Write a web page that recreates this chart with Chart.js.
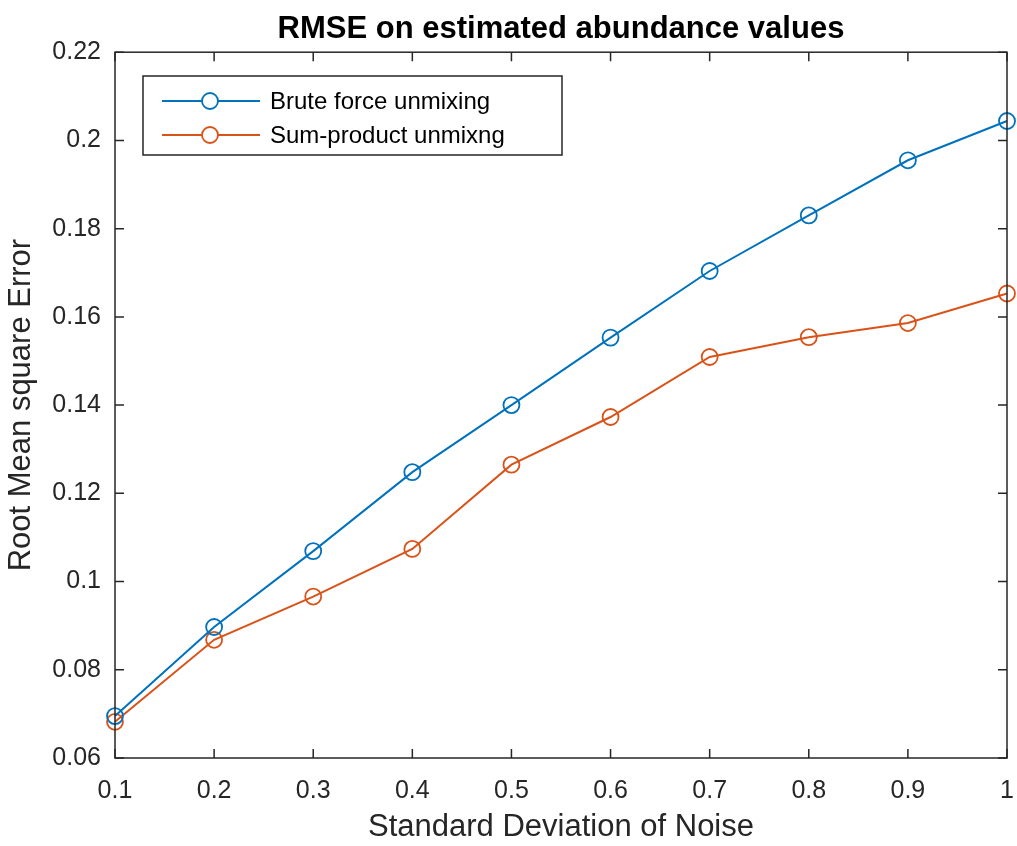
<!DOCTYPE html>
<html>
<head>
<meta charset="utf-8">
<script src="https://cdn.jsdelivr.net/npm/chart.js@4/dist/chart.umd.min.js"></script>
<style>
  html, body { margin: 0; padding: 0; background: #fff; }
  #wrap { width: 1017px; height: 846px; }
</style>
</head>
<body>
<div id="wrap"><canvas id="grafico" width="1017" height="846"></canvas></div>
<script>
// dados
const ruido = [0.1, 0.2, 0.3, 0.4, 0.5, 0.6, 0.7, 0.8, 0.9, 1.0];
const bruteForce = [0.0695, 0.0897, 0.1069, 0.1248, 0.1400, 0.1553, 0.1704, 0.1830, 0.1955, 0.2044];
const sumProduct = [0.0682, 0.0868, 0.0966, 0.1074, 0.1265, 0.1373, 0.1509, 0.1554, 0.1586, 0.1653];
const nomesSeries = ['Brute force unmixing', 'Sum-product unmixng'];
const coresSeries = ['#0072BD', '#D95319'];

const FONTE = "'Liberation Sans', Arial, Helvetica, sans-serif";
const COR_EIXO = '#262626';

function pontos(ys) {
  return ruido.map((x, i) => ({ x: x, y: ys[i] }));
}

function limpaNumero(v) {
  return String(parseFloat(Number(v).toFixed(3)));
}

// moldura estilo MATLAB: caixa fechada e ticks para dentro
const moldura = {
  id: 'moldura',
  afterDatasetsDraw(chart) {
    const { ctx, chartArea: a, scales } = chart;
    const tam = 9;
    ctx.save();
    ctx.strokeStyle = COR_EIXO;
    ctx.lineWidth = 1.5;
    ctx.strokeRect(a.left, a.top, a.right - a.left, a.bottom - a.top);
    ctx.beginPath();
    scales.x.ticks.forEach(t => {
      const px = scales.x.getPixelForValue(t.value);
      ctx.moveTo(px, a.bottom); ctx.lineTo(px, a.bottom - tam);
      ctx.moveTo(px, a.top); ctx.lineTo(px, a.top + tam);
    });
    scales.y.ticks.forEach(t => {
      const py = scales.y.getPixelForValue(t.value);
      ctx.moveTo(a.left, py); ctx.lineTo(a.left + tam, py);
      ctx.moveTo(a.right, py); ctx.lineTo(a.right - tam, py);
    });
    ctx.stroke();

    // legenda
    const lx = 143, ly = 76, lw = 419, lh = 79;
    ctx.fillStyle = '#fff';
    ctx.fillRect(lx, ly, lw, lh);
    ctx.strokeStyle = COR_EIXO;
    ctx.lineWidth = 1.5;
    ctx.strokeRect(lx, ly, lw, lh);
    chart.data.datasets.forEach((ds, i) => {
      const yy = ly + 25 + i * 34;
      ctx.strokeStyle = ds.borderColor;
      ctx.lineWidth = 2;
      ctx.beginPath();
      ctx.moveTo(lx + 19, yy); ctx.lineTo(lx + 117, yy);
      ctx.stroke();
      ctx.beginPath();
      ctx.lineWidth = 1.8;
      ctx.arc(lx + 67, yy, 8, 0, Math.PI * 2);
      ctx.fillStyle = '#fff';
      ctx.fill();
      ctx.stroke();
      ctx.fillStyle = '#000';
      ctx.font = '24px ' + FONTE;
      ctx.textBaseline = 'middle';
      ctx.textAlign = 'left';
      ctx.fillText(ds.label, lx + 127, yy + 1);
    });
    ctx.restore();
  }
};

const ctx = document.getElementById('grafico').getContext('2d');
new Chart(ctx, {
  type: 'line',
  plugins: [moldura],
  data: {
    datasets: [bruteForce, sumProduct].map((serie, i) => ({
      label: nomesSeries[i],
      data: pontos(serie),
      borderColor: coresSeries[i],
      backgroundColor: 'rgba(0,0,0,0)',
      borderWidth: 2,
      pointRadius: 8,
      pointBorderWidth: 1.8,
      pointBackgroundColor: 'rgba(0,0,0,0)',
      pointBorderColor: coresSeries[i],
      tension: 0,
      clip: false
    }))
  },
  options: {
    responsive: false,
    animation: false,
    devicePixelRatio: 1,
    layout: { padding: { left: 0, right: 10, top: 0, bottom: 0 } },
    plugins: {
      legend: { display: false },
      tooltip: { enabled: false },
      title: {
        display: true,
        fullSize: false,
        text: 'RMSE on estimated abundance values',
        color: '#000',
        font: { family: FONTE, size: 31, weight: 'bold', lineHeight: 1.2 },
        padding: { top: 11, bottom: 4 }
      }
    },
    scales: {
      x: {
        type: 'linear',
        min: 0.1,
        max: 1,
        afterFit(s) { s.height = 88; s.paddingLeft = 0; s.paddingRight = 0; },
        afterBuildTicks(s) { s.ticks = ruido.map(v => ({ value: v })); },
        grid: { display: false, drawTicks: false },
        border: { display: false },
        ticks: {
          color: COR_EIXO,
          padding: 18,
          font: { family: FONTE, size: 25 },
          callback: v => limpaNumero(v),
          maxRotation: 0,
          autoSkip: false
        },
        title: {
          display: true,
          text: 'Standard Deviation of Noise',
          color: COR_EIXO,
          font: { family: FONTE, size: 31, lineHeight: 1.2 },
          padding: { top: 0, bottom: 0 }
        }
      },
      y: {
        min: 0.06,
        max: 0.22,
        afterFit(s) { s.width = 115; s.paddingTop = 0; s.paddingBottom = 0; },
        grid: { display: false, drawTicks: false },
        border: { display: false },
        ticks: {
          stepSize: 0.02,
          color: COR_EIXO,
          padding: 14,
          font: { family: FONTE, size: 25 },
          callback: v => limpaNumero(v)
        },
        title: {
          display: true,
          text: 'Root Mean square Error',
          color: COR_EIXO,
          font: { family: FONTE, size: 31, lineHeight: 1.2 },
          padding: { top: 3, bottom: 0 }
        }
      }
    }
  }
});
</script>
</body>
</html>
